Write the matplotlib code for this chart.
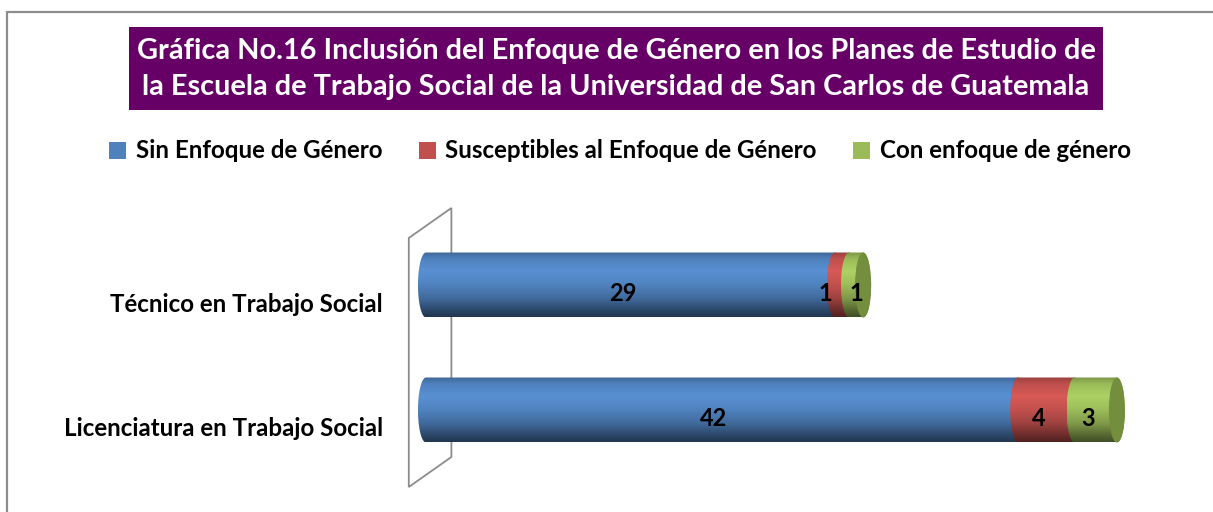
import numpy as np
import matplotlib
matplotlib.use("Agg")
import matplotlib.pyplot as plt
from matplotlib.patches import Patch, Polygon, Ellipse, Rectangle, PathPatch
from matplotlib.path import Path
from matplotlib.transforms import ScaledTranslation

plt.rcParams['font.family'] = ['Lato', 'DejaVu Sans']
plt.rcParams['font.weight'] = 'bold'

# data
categorias = ['Licenciatura en Trabajo Social', 'Técnico en Trabajo Social']
series = ['Sin Enfoque de Género', 'Susceptibles al Enfoque de Género', 'Con enfoque de género']
sin_enfoque = [42, 29]
susceptibles = [4, 1]
con_enfoque = [3, 1]
valores = [sin_enfoque, susceptibles, con_enfoque]

titulo = ('Gráfica No.16 Inclusión del Enfoque de Género en los Planes de Estudio de\n'
          'la Escuela de Trabajo Social de la Universidad de San Carlos de Guatemala')

colores = ['#4f81bd', '#c0504d', '#9bbb59']
tapa = ['#2f4f7a', '#8a3533', '#738e3c']

W, H = 1213, 512
fig = plt.figure(figsize=(W / 100, H / 100), dpi=100)

# outer frame
fig.patches.append(Rectangle((7 / W, -0.1), 1.2, 1 - 12 / H + 0.1, transform=fig.transFigure,
                             fill=False, edgecolor='#8c8c8c', lw=1.6))

# title box
fig.patches.append(Rectangle((129 / W, 1 - 110 / H), (1103 - 129) / W, 83 / H,
                             transform=fig.transFigure, facecolor='#660066', edgecolor='none'))
fig.text(616 / W, 1 - 69 / H, titulo, ha='center', va='center', color='white',
         fontsize=20.8, fontweight='bold', linespacing=1.45)

# axes: value 0 at px 426, 14.1 px per unit; rows 125 px apart
x0, sx = 426, 14.1
xmin = -2
ax = fig.add_axes([(x0 + xmin * sx) / W, (512 - 490) / H, (W - x0 - xmin * sx) / W, 290 / H])
ax.patch.set_alpha(0)
for s in ax.spines.values():
    s.set_visible(False)
ax.set_xticks([])

# 3-D wall behind the bars
ax.add_patch(Polygon([(-1.22, 1.376), (1.8, 1.616), (1.8, -0.376), (-1.22, -0.616)],
                     closed=True, fill=False, edgecolor='#8c8c8c', lw=1.3, zorder=1))

h = 0.52
a = 0.57
perfil_t = [0.0, 0.12, 0.3, 0.5, 0.72, 0.9, 1.0]
perfil_f = [0.78, 1.0, 1.12, 1.02, 0.82, 0.55, 0.42]


def cilindro(s, e, y, color, z):
    th1 = np.linspace(np.pi / 2, 3 * np.pi / 2, 40)
    th2 = np.linspace(-np.pi / 2, np.pi / 2, 40)
    izq = np.c_[s + a * np.cos(th1), y + h / 2 * np.sin(th1)]
    der = np.c_[e + a * np.cos(th2), y + h / 2 * np.sin(th2)]
    pts = np.vstack([izq, der, izq[:1]])
    patch = PathPatch(Path(pts), facecolor='none', edgecolor='none', zorder=z)
    ax.add_patch(patch)
    t = np.linspace(0, 1, 120)
    f = np.interp(t, perfil_t, perfil_f)
    rgb = np.array(matplotlib.colors.to_rgb(color))
    img = np.clip(rgb[None, :] * f[:, None], 0, 1)[:, None, :]
    im = ax.imshow(img, extent=(s - a, e + a, y - h / 2, y + h / 2), aspect='auto',
                   interpolation='bilinear', zorder=z)
    im.set_clip_path(patch)


for i, cat in enumerate(categorias):
    izq = 0
    xs = []
    for j, vals in enumerate(valores):
        v = vals[i]
        cilindro(izq, izq + v, i, colores[j], 3 + j)
        xs.append(izq + v / 2 - a)
        izq += v
    ax.add_patch(Ellipse((izq, i), 2 * a, h, facecolor=tapa[-1], edgecolor='none', zorder=8))
    # keep neighbouring labels from overlapping
    for k in range(1, len(xs)):
        if xs[k] - xs[k - 1] < 2.2:
            m = (xs[k] + xs[k - 1]) / 2
            xs[k - 1], xs[k] = m - 1.1, m + 1.1
    for j, vals in enumerate(valores):
        ax.text(xs[j], i - 0.07, str(vals[i]), ha='center', va='center',
                fontsize=17, fontweight='bold', color='black', zorder=10)

ax.set_xlim(xmin, (W - x0) / sx)
ax.set_ylim(-0.64, 1.68)

ax.set_yticks(range(len(categorias)))
ax.set_yticklabels(categorias, fontsize=17.4, fontweight='bold')
ax.tick_params(axis='y', length=0, pad=(x0 + xmin * sx - 383) / 1.389)
for lbl in ax.get_yticklabels():
    lbl.set_transform(lbl.get_transform() + ScaledTranslation(0, -0.17, fig.dpi_scale_trans))

handles = [Patch(facecolor=c, edgecolor='none') for c in colores]
fig.legend(handles, series, loc='center', bbox_to_anchor=(620 / W, 1 - 151 / H), ncol=3,
           frameon=False, handlelength=0.7, handleheight=0.7,
           handletextpad=0.4, columnspacing=1.5, prop={'weight': 'bold', 'size': 17.4})

fig.savefig('out.png', dpi=100)
